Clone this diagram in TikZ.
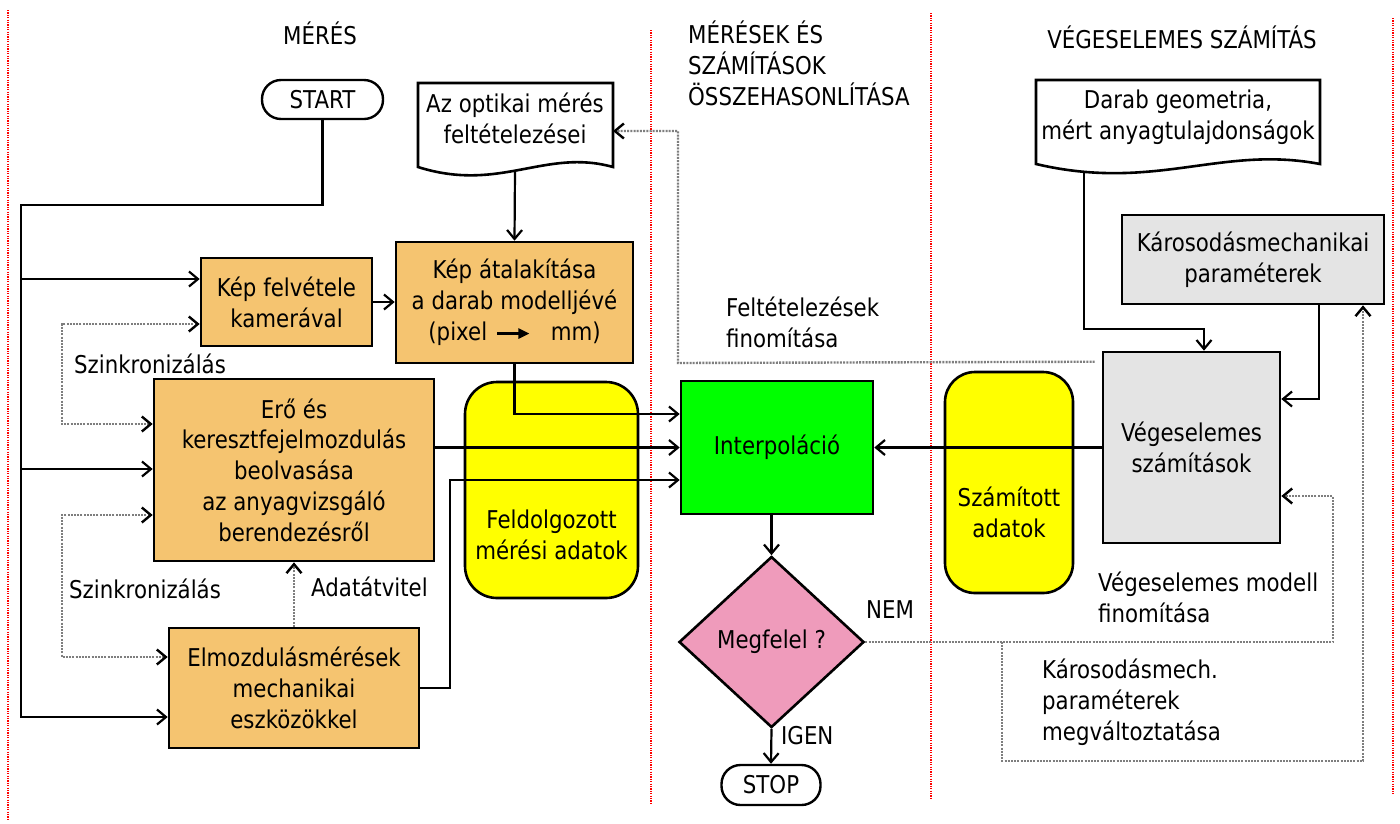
\documentclass[tikz,border=0pt]{standalone}
\usepackage{fontspec}
\setmainfont{DejaVu Sans}[FakeStretch=0.87]
\usetikzlibrary{arrows.meta,shapes.geometric}
\definecolor{orangebox}{HTML}{F5C470}
\definecolor{yelbox}{HTML}{FFFF00}
\definecolor{grnbox}{HTML}{00FF00}
\definecolor{pnkbox}{HTML}{EF9BBB}
\definecolor{grybox}{HTML}{E4E4E4}
\definecolor{dotgray}{HTML}{7E7E7E}
\tikzset{
  every node/.style={font=\fontsize{24.5}{30.8}\selectfont, inner sep=0pt, align=center},
  procbox/.style={draw, line width=2.6pt, rectangle},
  ln/.style={line width=2.2pt, draw=black},
  arrto/.style={-{Straight Barb[length=9pt,width=15pt]}},
  dotln/.style={line width=2.4pt, draw=dotgray, dash pattern=on 2pt off 1.2pt},
  darrto/.style={-{Straight Barb[length=9pt,width=15pt,color=black]}},
  darrboth/.style={{Straight Barb[length=9pt,width=15pt,color=black]}-{Straight Barb[length=9pt,width=15pt,color=black]}},
  redln/.style={draw=red, line width=1.3pt, dash pattern=on 1.2pt off 1.2pt},
  termbox/.style={draw, line width=2.4pt, rounded corners=19pt},
  docshape/.style={draw, line width=2.6pt, fill=white},
}
\newcommand{\pxarrow}{\tikz[baseline=-7pt]\draw[line width=2.6pt,-{Triangle[length=11pt,width=10pt]}] (0pt,0pt) -- (32pt,0pt);}
\begin{document}
\begin{tikzpicture}[x=1pt,y=-1pt]
\useasboundingbox (0,0) rectangle (1400,823);
\fill[white] (0,0) rectangle (1400,823);

% swimlane separators
\draw[redln] (8,10) -- (8,820);
\draw[redln] (651,30) -- (651,805);
\draw[redln] (931,13) -- (931,800);
\draw[redln] (1393,18) -- (1393,795);

% headers
\node (h1) at (320,33) {MÉRÉS};
\node[anchor=west, align=left] (h2) at (688,63.5) {MÉRÉSEK ÉS\\SZÁMÍTÁSOK\\ÖSSZEHASONLÍTÁSA};
\node (h3) at (1182,37) {VÉGESELEMES SZÁMÍTÁS};

% terminals
\node[termbox, minimum width=121pt, minimum height=39pt] (start) at (322.5,99.5) {START};
\node[termbox, minimum width=99pt, minimum height=40pt] (stop) at (771,785) {STOP};

% document shapes
\draw[docshape] (418,83) -- (613,83) -- (613,167)
  .. controls (545,148) and (500,193) .. (418,167) -- cycle;
\node (doc1) at (515,118) {Az optikai mérés\\feltételezései};
\coordinate (doc1bot) at (515,170);
\coordinate (doc1r) at (613,131);

\draw[docshape] (1036,80) -- (1320,80) -- (1320,164)
  .. controls (1221,145) and (1155,192) .. (1036,164) -- cycle;
\node (doc2) at (1178,117) {Darab geometria,\\mért anyagtulajdonságok};
\coordinate (doc2bot) at (1084,171);

% process boxes
\node[procbox, fill=orangebox, minimum width=171pt, minimum height=88pt] (kf) at (286.5,302) {Kép felvétele\\kamerával};
\node[procbox, fill=orangebox, minimum width=237pt, minimum height=121pt] (ka) at (514.5,302.5) {Kép átalakítása\\a darab modelljévé\\(pixel\hspace{9pt}\pxarrow\hspace{20pt}mm)};
\node[procbox, fill=orangebox, minimum width=280pt, minimum height=182pt] (ero) at (294,470) {Erő és\\keresztfejelmozdulás\\beolvasása\\az anyagvizsgáló\\berendezésről};
\node[procbox, fill=orangebox, minimum width=250pt, minimum height=120pt] (elm) at (294,688) {Elmozdulásmérések\\mechanikai\\eszközökkel};

\node[draw, line width=2.6pt, fill=yelbox, rounded corners=32pt, minimum width=173pt, minimum height=216pt] (feld) at (551.5,490) {};
\node (feldtxt) at (551.5,535) {Feldolgozott\\mérési adatok};

\node[procbox, fill=grnbox, minimum width=192pt, minimum height=133pt] (interp) at (777,447.5) {Interpoláció};

\node[diamond, draw, line width=2.6pt, fill=pnkbox, minimum width=185pt, minimum height=171pt, aspect=1.08] (diam) at (771.5,642) {Megfelel ?};

\node[draw, line width=2.6pt, fill=yelbox, rounded corners=30pt, minimum width=128pt, minimum height=221pt] (szam) at (1009,482.5) {};
\node (szamtxt) at (1009,512) {Számított\\adatok};

\node[procbox, fill=grybox, minimum width=177pt, minimum height=191pt] (veg) at (1191.5,447.5) {Végeselemes\\számítások};
\node[procbox, fill=grybox, minimum width=262pt, minimum height=89pt] (karos) at (1253,259.5) {Károsodásmechanikai\\paraméterek};

% main solid connectors
\draw[ln, arrto] (start.south) |- (21,205) -- (21,717) -- (elm.west |- 21,717);
\draw[ln, arrto] (21,279) -- (kf.west |- 21,279);
\draw[ln, arrto] (21,469) -- (ero.west |- 21,469);
\draw[ln, arrto] (kf.east) -- (ka.west |- kf.east);
\draw[ln, arrto] (doc1bot) -- (ka.north);
\draw[ln, arrto] (ka.south) |- ([yshift=33.5pt]interp.west);
\draw[ln, arrto] (ero.east |- interp.west) -- (interp.west);
\draw[ln, arrto] (elm.east) -- (450,688) |- ([yshift=-32.5pt]interp.west);
\draw[ln, arrto] (diam.north |- interp.south) -- (diam.north);
\draw[ln, arrto] (diam.south) -- (stop.north);
\draw[ln, arrto] (veg.west) -- (interp.east |- veg.west);
\draw[ln, arrto] (doc2bot) -- (1084,329) -| ([xshift=12.5pt]veg.north);
\draw[ln, arrto] ([xshift=66pt]karos.south) |- ([yshift=48.5pt]veg.east);

% dotted feedback connectors
\draw[dotln, darrto] (diam.east) -- (1333,642) |- ([yshift=-48.5pt]veg.east);
\draw[dotln, darrto] (1002,642) -- (1002,761) -| ([xshift=110pt]karos.south);
\draw[dotln, darrto] ([xshift=-7pt,yshift=-11pt]veg.north west) -- (678,363) |- (doc1r);
\draw[dotln, darrboth] (kf.west |- 62,324) -| (62,424) -- (ero.west |- 62,424);
\draw[dotln, darrboth] (ero.west |- 62,515) -| (62,657) -- (elm.west |- 62,657);
\draw[dotln, darrto] (elm.north) -- (ero.south);

% labels
\node[anchor=west] (sz1) at (74,364) {Szinkronizálás};
\node[anchor=west] (sz2) at (69,589) {Szinkronizálás};
\node[anchor=west] (adat) at (311,587) {Adatátvitel};
\node[anchor=west, align=left] (felt) at (726,322) {Feltételezések\\finomítása};
\node (nem) at (890,610) {NEM};
\node[anchor=west] (igen) at (781,736) {IGEN};
\node[anchor=west, align=left] (vmf) at (1098,597) {Végeselemes modell\\finomítása};
\node[anchor=west, align=left] (kpm) at (1042,702) {Károsodásmech.\\paraméterek\\megváltoztatása};
\end{tikzpicture}
\end{document}
